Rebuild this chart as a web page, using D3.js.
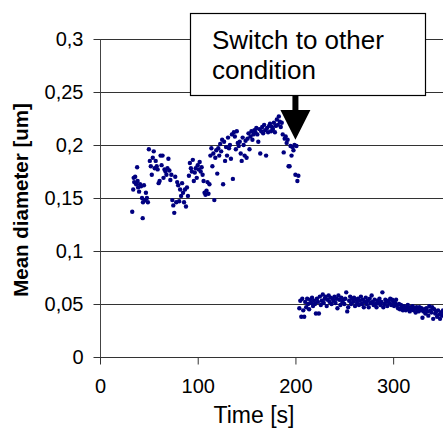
<!DOCTYPE html>
<html>
  <head>
    <meta charset="utf-8">
    <title>Mean diameter over time</title>
    <style>
      body { margin: 0; background: #fff; }
      svg text { font-family: Arial, "Liberation Sans", sans-serif; fill: #000; }
      .tickLabel { font-size: 20px; }
      .axisTitle { font-size: 23px; }
      .yTitle { font-size: 20.5px; font-weight: bold; }
      .note { font-size: 26px; }
    </style>
  </head>
  <body>
    <svg id="svg1" width="443" height="428"></svg>

    <script src="https://cdnjs.cloudflare.com/ajax/libs/d3/7.8.5/d3.min.js"></script>
    <script>
      // Data: time [s] and mean diameter [um]
      var time1 = [33,34,34.5,35,36,37,38,38.5,39,40,41,42,43,43.7,44,45,46,47,48,49,
        50,51,52,53,54,55,56,57,58,59,60,61,62,63,64,65,66,67,68,69,70,71,72,
        73,74,75,76,77,78,79,80,81,82,83,84,85,86,87,88,89,90,
        91,92,93,94,95,96,97,98,99,100,101,102,103,104,105,106,107,108,109,110,111,112,
        113,114,115,116,117,118,119,120,121,122,123,124,125,126,127,128,129,130,131,132,133,134,135,
        136,137,138,139,140,141,142,143,144,145,146,147,148,149,150,151,152,153,154,155,156,157,158,159,160,
        161,162,163,164,165,166,167,168,169,170,171,172,173,174,175,176,177,178,179,180,181,182,183,184,185,
        186,187,188,189,190,191,192,193,194,195,196,197,198,199,200,201,202,203];
      var diam1 = [0.137,0.158,0.169,0.165,0.170,0.163,0.179,0.166,0.160,0.156,0.163,0.161,0.150,0.131,0.146,0.162,0.148,0.155,0.150,0.146,
        0.196,0.185,0.180,0.172,0.188,0.194,0.178,0.185,0.180,0.177,0.164,0.166,0.190,0.181,0.190,0.169,0.177,0.175,0.172,0.178,0.187,0.176,0.167,
        0.172,0.148,0.143,0.136,0.170,0.146,0.165,0.162,0.147,0.158,0.152,0.164,0.155,0.146,0.158,0.142,0.160,0.152,
        0.171,0.183,0.178,0.175,0.186,0.166,0.174,0.178,0.169,0.181,0.177,0.184,0.175,0.179,0.172,0.166,0.155,0.153,0.157,0.165,0.154,0.163,
        0.190,0.197,0.180,0.192,0.148,0.188,0.195,0.173,0.197,0.190,0.201,0.194,0.205,0.163,0.203,0.185,0.198,0.190,0.207,0.197,0.200,0.187,0.210,
        0.168,0.212,0.208,0.196,0.213,0.202,0.199,0.203,0.192,0.185,0.207,0.200,0.190,0.204,0.188,0.206,0.211,0.196,0.208,0.213,0.205,0.210,0.214,0.212,0.216,
        0.210,0.203,0.215,0.192,0.213,0.217,0.211,0.219,0.214,0.190,0.216,0.212,0.218,0.220,0.213,0.217,0.215,0.221,0.212,0.218,0.224,0.219,0.227,0.222,0.217,
        0.221,0.210,0.193,0.206,0.208,0.202,0.205,0.180,0.180,0.199,0.190,0.198,0.195,0.200,0.172,0.199,0.166,0.171];

      var time2 = [204,205,206,207,208,209,210,211,212,213,214,215,216,217,218,219,220,
        221,222,223,224,225,226,227,228,229,230,231,232,233,234,235,236,237,238,239,240,
        241,242,243,244,245,246,247,248,249,250,251,252,253,254,255,256,257,258,259,260,
        261,262,263,264,265,266,267,268,269,270,271,272,273,274,275,276,277,278,279,280,
        281,282,283,284,285,286,287,288,289,290,291,292,293,294,295,296,297,298,299,300,
        301,302,303,304,305,306,307,308,309,310,311,312,313,314,315,316,317,318,319,320,
        321,322,323,324,325,326,327,328,329,330,331,332,333,334,335,336,337,338,339,340,
        341,342,343,344,345,346,347,348,349,350,351];
      var diam2 = [0.046,0.053,0.038,0.055,0.044,0.038,0.052,0.047,0.055,0.050,0.045,0.054,0.051,0.056,0.048,0.053,0.050,
        0.041,0.055,0.052,0.041,0.057,0.049,0.053,0.059,0.051,0.055,0.057,0.048,0.054,0.058,0.052,0.056,0.050,0.055,0.053,0.057,
        0.051,0.055,0.046,0.058,0.054,0.049,0.056,0.052,0.054,0.050,0.055,0.061,0.043,0.047,0.053,0.057,0.050,0.055,0.052,0.056,
        0.048,0.054,0.051,0.055,0.049,0.053,0.057,0.050,0.054,0.047,0.052,0.056,0.050,0.053,0.047,0.055,0.051,0.058,0.052,0.049,
        0.054,0.050,0.047,0.053,0.051,0.055,0.049,0.052,0.061,0.047,0.050,0.054,0.052,0.048,0.053,0.051,0.055,0.049,0.054,0.052,
        0.048,0.051,0.054,0.049,0.046,0.050,0.045,0.049,0.047,0.044,0.048,0.046,0.044,0.047,0.049,0.045,0.043,0.047,0.045,0.048,
        0.044,0.046,0.042,0.047,0.045,0.043,0.047,0.044,0.046,0.037,0.043,0.045,0.041,0.046,0.043,0.039,0.048,0.044,0.042,0.047,
        0.036,0.045,0.041,0.043,0.038,0.044,0.040,0.036,0.042,0.039,0.044];

      var yTicks = [0, 0.05, 0.1, 0.15, 0.2, 0.25, 0.3];
      var xTicks = [0, 100, 200, 300];
      var noteLines = ["Switch to other", "condition"];
      var switchTime = 200;

      var svg = d3.select("#svg1");
      var margin = {top: 39, left: 100, bottom: 71};
      var plotRight = 442;
      var plotBottom = 428 - margin.bottom;

      var x = d3.scaleLinear().domain([0, 350]).range([margin.left, plotRight]);
      var y = d3.scaleLinear().domain([0, 0.3]).range([plotBottom, margin.top]);

      var comma = d3.formatLocale({decimal: ",", thousands: ".", grouping: [3], currency: ["", ""]}).format("~g");

      // Gridlines
      svg.append("g")
        .selectAll("line")
        .data(yTicks.slice(1))
        .enter()
        .append("line")
        .attr("x1", x(0)).attr("x2", 443)
        .attr("y1", function(d) { return Math.round(y(d)) + 0.5; })
        .attr("y2", function(d) { return Math.round(y(d)) + 0.5; })
        .attr("stroke", "#333")
        .attr("stroke-width", 1);

      // Y axis
      var yAxis = svg.append("g")
        .attr("transform", "translate(" + (Math.round(x(0)) + 0.5) + ",0)")
        .call(d3.axisLeft(y).tickValues(yTicks).tickSize(7).tickPadding(10).tickFormat(comma));
      yAxis.select(".domain").attr("stroke", "#444").attr("d", "M0," + (y(0) + 7) + "V" + y(0.3));
      yAxis.selectAll(".tick line").attr("stroke", "#333");
      yAxis.selectAll(".tick text").attr("class", "tickLabel").attr("font-size", null).attr("font-family", null);

      // X axis
      var xAxis = svg.append("g")
        .attr("transform", "translate(0," + (Math.round(y(0)) + 0.5) + ")")
        .call(d3.axisBottom(x).tickValues(xTicks).tickSize(7).tickPadding(14).tickFormat(d3.format("d")));
      xAxis.select(".domain").attr("stroke", "#333").attr("d", "M" + x(0) + ",0H443");
      xAxis.selectAll(".tick line").attr("stroke", "#333");
      xAxis.selectAll(".tick text").attr("class", "tickLabel").attr("font-size", null).attr("font-family", null);

      // Points
      var pts = [];
      time1.forEach(function(t, i) { pts.push([t, diam1[i]]); });
      time2.forEach(function(t, i) { pts.push([t, diam2[i]]); });

      svg.append("g")
        .selectAll("circle")
        .data(pts)
        .enter()
        .append("circle")
        .attr("cx", function(d) { return x(d[0]); })
        .attr("cy", function(d) { return y(d[1]); })
        .attr("r", 2.2)
        .attr("fill", "#000080");

      // Axis titles
      svg.append("text")
        .attr("class", "axisTitle")
        .attr("x", 254).attr("y", 423)
        .attr("text-anchor", "middle")
        .text("Time [s]");

      svg.append("text")
        .attr("class", "yTitle")
        .attr("transform", "translate(28,200) rotate(-90)")
        .attr("text-anchor", "middle")
        .text("Mean diameter [um]");

      // Annotation box with arrow
      var note = svg.append("g");
      var boxL = x(92), boxR = x(333), boxT = 13, boxB = 95;
      note.append("rect")
        .attr("x", Math.round(boxL) + 0.5).attr("y", boxT + 0.5)
        .attr("width", Math.round(boxR - boxL)).attr("height", boxB - boxT)
        .attr("fill", "#fff").attr("stroke", "#000").attr("stroke-width", 1.2);

      note.selectAll("text.note")
        .data(noteLines)
        .enter()
        .append("text")
        .attr("class", "note")
        .attr("x", boxL + 22)
        .attr("y", function(d, i) { return 49 + i * 30; })
        .text(function(d) { return d; });

      var ax = x(switchTime), tipY = y(0.205), headY = 110;
      note.append("path")
        .attr("d", "M" + (ax - 3) + "," + boxB + "V" + headY + "H" + (ax - 15) +
          "L" + ax + "," + tipY + "L" + (ax + 15) + "," + headY + "H" + (ax + 3) + "V" + boxB + "Z")
        .attr("fill", "#000");
    </script>
  </body>
</html>
